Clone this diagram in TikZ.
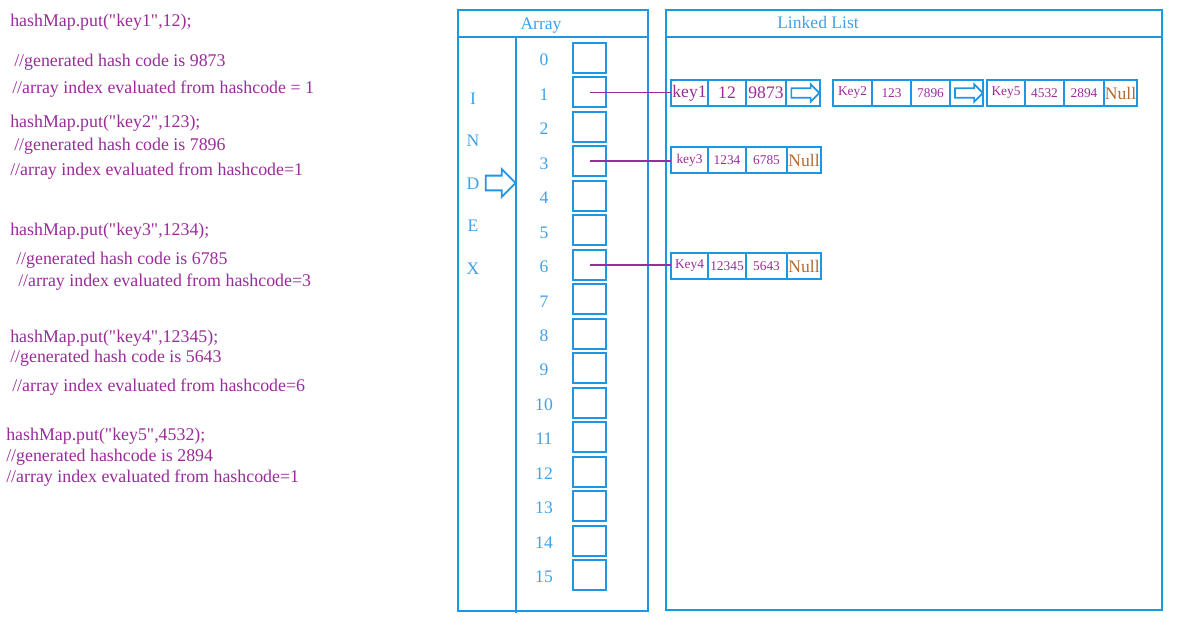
\documentclass[tikz,border=0pt]{standalone}
\usepackage{fontspec}
\setmainfont{Liberation Serif}
\usepackage{xcolor}
\definecolor{cBlue}  {HTML}{1E96E6}
\definecolor{cNum}   {HTML}{3DA2EA}
\definecolor{cPurple}{HTML}{9A2C9A}
\definecolor{cNull}  {HTML}{B5692F}
\usetikzlibrary{shapes.arrows, positioning}
% plain font for the code lines, so that " stays straight
\font\codefnt="Liberation Serif" at 12.7pt
\tikzset{
  code/.style   = {anchor=west, inner sep=0pt, text=cPurple, font=\codefnt},
  frame/.style  = {draw=cBlue, line width=1.3pt},
  title/.style  = {text=cNum, inner sep=0pt, font=\fontsize{12.5}{14}\selectfont},
  idx/.style    = {text=cNum, inner sep=0pt, font=\fontsize{12.5}{14}\selectfont},
  bucket/.style = {draw=cBlue, line width=1.4pt, inner sep=0pt,
                   minimum width=0.825cm, minimum height=0.75cm},
  cell/.style   = {draw=cBlue, line width=1.2pt, inner sep=0pt, outer sep=0pt,
                   minimum width=#1*0.025cm, minimum height=0.65cm,
                   text=cPurple, font=\fontsize{9.5}{11}\selectfont},
  cell/.default = 38,
  big/.style    = {font=\fontsize{12.5}{14}\selectfont},
  nul/.style    = {text=cNull, font=\fontsize{12.5}{14}\selectfont},
  idxarr/.style = {single arrow, draw=cBlue, line width=1.3pt, inner xsep=0pt,
                   inner ysep=4.6pt, single arrow head extend=0.1625cm,
                   minimum height=0.75cm},
  cellarr/.style= {single arrow, draw=cBlue, line width=1.2pt, inner xsep=0pt,
                   inner ysep=2.8pt, single arrow head extend=0.1cm,
                   minimum height=0.7cm},
  link/.style   = {draw=cPurple, line width=1.3pt},
}

\begin{document}
\begin{tikzpicture}[x=0.025cm, y=-0.025cm]
  \useasboundingbox (0,0) rectangle (1200,630);

  %% Code on the left
  \node[code] (c1)  at (10,22)  {hashMap.put("key1",12);};
  \node[code] (c2)  at (14,62)  {//generated hash code is 9873};
  \node[code] (c3)  at (12,89)  {//array index evaluated from hashcode = 1};
  \node[code] (c4)  at (10,123) {hashMap.put("key2",123);};
  \node[code] (c5)  at (14,146) {//generated hash code is 7896};
  \node[code] (c6)  at (10,171) {//array index evaluated from hashcode=1};
  \node[code] (c7)  at (10,231) {hashMap.put("key3",1234);};
  \node[code] (c8)  at (16,260) {//generated hash code is 6785};
  \node[code] (c9)  at (18,282) {//array index evaluated from hashcode=3};
  \node[code] (c10) at (10,338) {hashMap.put("key4",12345);};
  \node[code] (c11) at (10,358) {//generated hash code is 5643};
  \node[code] (c12) at (12,387) {//array index evaluated from hashcode=6};
  \node[code] (c13) at (6,436)  {hashMap.put("key5",4532);};
  \node[code] (c14) at (6,457)  {//generated hashcode is 2894};
  \node[code] (c15) at (6,478)  {//array index evaluated from hashcode=1};

  %% Array panel
  \draw[frame] (458,10) rectangle (648,611);
  \draw[frame] (458,37) -- (648,37);
  \draw[frame] (516,37) -- (516,613);
  \node[title] (arrtitle) at (541,26) {Array};

  \foreach \ch [count=\k] in {I,N,D,E,X}
    \node[idx] (l\k) at (473, 56+42.5*\k) {\ch};
  \node[idxarr] (darr) at (497,183) {};

  \foreach \i in {0,...,15}{
    \node[idx]    (n\i) at (544, 60+34.47*\i) {\i};
    \node[bucket] (b\i) at (589.5, 58+34.47*\i) {};
  }

  %% Linked list panel
  \draw[frame] (666,10) rectangle (1162,610);
  \draw[frame] (666,37) -- (1163,37);
  \node[title] (lltitle) at (818,22) {Linked List};

  %% Bucket 1
  \node[cell=37, big] (k1) at (689.5,93) {key1};
  \node[cell=38, big, right=0pt of k1] (v1) {12};
  \node[cell=40, big, right=0pt of v1] (h1) {9873};
  \node[cell=34, right=0pt of h1] (p1) {};
  \node[cellarr] (a1) at (p1) {};
  \node[cell=39, right=0.325cm of p1] (k2) {Key2};
  \node[cell=39, right=0pt of k2] (v2) {123};
  \node[cell=39, right=0pt of v2] (h2) {7896};
  \node[cell=33, right=0pt of h2] (p2) {};
  \node[cellarr] (a2) at (p2) {};
  \node[cell=38, right=0.1cm of p2] (k5) {Key5};
  \node[cell=39, right=0pt of k5] (v5) {4532};
  \node[cell=40, right=0pt of v5] (h5) {2894};
  \node[cell=33, nul, right=0pt of h5] (z5) {Null};

  %% Bucket 3
  \node[cell=37] (k3) at (689.5,160) {key3};
  \node[cell=38, right=0pt of k3] (v3) {1234};
  \node[cell=41, right=0pt of v3] (h3) {6785};
  \node[cell=34, nul, right=0pt of h3] (z3) {Null};

  %% Bucket 6
  \node[cell=37] (k4) at (689.5,266) {Key4};
  \node[cell=38, right=0pt of k4] (v4) {12345};
  \node[cell=41, right=0pt of v4] (h4) {5643};
  \node[cell=34, nul, right=0pt of h4] (z4) {Null};

  \draw[link] (b1.center) -- (b1.center -| k1.west);
  \draw[link] (b3.center) -- (b3.center -| k3.west);
  \draw[link] (b6.center) -- (b6.center -| k4.west);
\end{tikzpicture}
\end{document}
